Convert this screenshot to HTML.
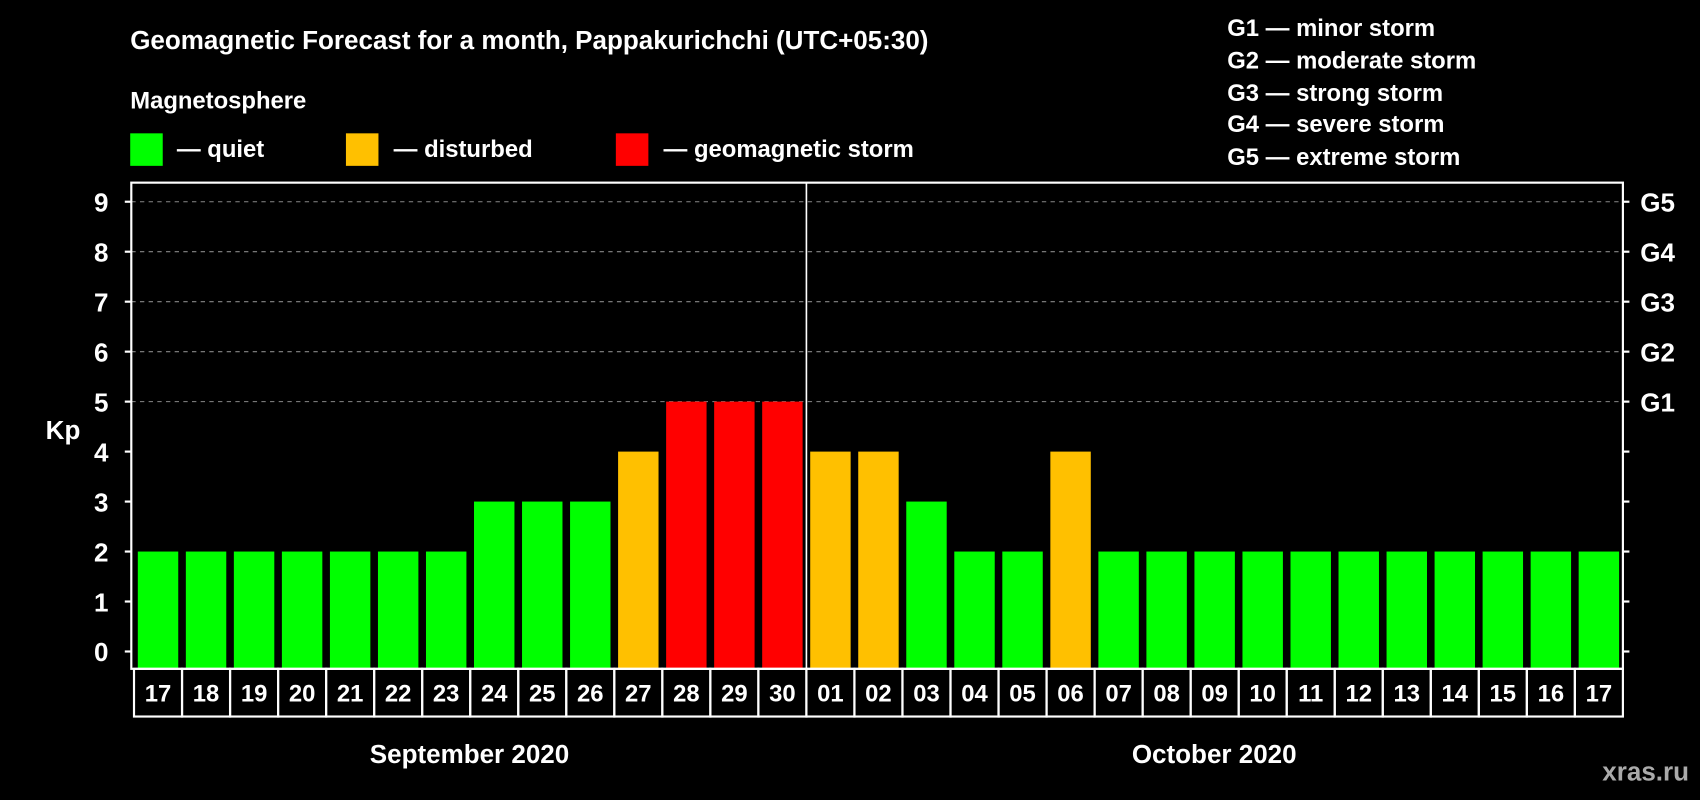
<!DOCTYPE html>
<html><head><meta charset="utf-8"><style>
html,body{margin:0;padding:0;background:#000;}
svg{display:block;font-family:"Liberation Sans",Arial,sans-serif;font-weight:bold;}
</style></head><body>
<svg id="chart" width="1700" height="800" viewBox="0 0 1568 738">
<rect x="0" y="0" width="1568" height="738" fill="#000"/>
<text x="120" y="45" fill="#fff" font-size="24">Geomagnetic Forecast for a month, Pappakurichchi (UTC+05:30)</text>
<text x="120" y="100" fill="#fff" font-size="22">Magnetosphere</text>
<g><rect x="120" y="123" width="30" height="30" fill="#00ff00"/><text x="163" y="145" fill="#fff" font-size="22">— quiet</text></g>
<g><rect x="319" y="123" width="30" height="30" fill="#ffc000"/><text x="363" y="145" fill="#fff" font-size="22">— disturbed</text></g>
<g><rect x="568" y="123" width="30" height="30" fill="#ff0000"/><text x="612" y="145" fill="#fff" font-size="22">— geomagnetic storm</text></g>
<g fill="#fff" font-size="22">
<text x="1132" y="33">G1 — minor storm</text>
<text x="1132" y="63">G2 — moderate storm</text>
<text x="1132" y="93">G3 — strong storm</text>
<text x="1132" y="122">G4 — severe storm</text>
<text x="1132" y="152">G5 — extreme storm</text>
</g>
<text x="58" y="405" fill="#fff" font-size="24" text-anchor="middle">Kp</text>
<g id="plot"></g>
<text x="433" y="704" fill="#fff" font-size="24" text-anchor="middle">September 2020</text>
<text x="1120" y="704" fill="#fff" font-size="24" text-anchor="middle">October 2020</text>
<text x="1558" y="720" fill="#aaa" font-size="24" text-anchor="end">xras.ru</text>
</svg>
<script>
const days = ["17","18","19","20","21","22","23","24","25","26","27","28","29","30","01","02","03","04","05","06","07","08","09","10","11","12","13","14","15","16","17"];
const kp = [2,2,2,2,2,2,2,3,3,3,4,5,5,5,4,4,3,2,2,4,2,2,2,2,2,2,2,2,2,2,2];
const levels = ["q","q","q","q","q","q","q","q","q","q","d","s","s","s","d","d","q","q","q","d","q","q","q","q","q","q","q","q","q","q","q"];
const yTicks = [0,1,2,3,4,5,6,7,8,9];
const gLabels = ["G1","G2","G3","G4","G5"];
const gLevels = [5,6,7,8,9];
const NS="http://www.w3.org/2000/svg";
const g=document.getElementById('plot');
const L=121,R=1497,T=168.5,B=617,slot0=123.5,pitch=(R-slot0)/days.length;
const y=v=>601-v*46.1;
const x=i=>slot0+i*pitch;
const colors={q:"#00ff00",d:"#ffc000",s:"#ff0000"};
function mk(t,a){const e=document.createElementNS(NS,t);for(const k in a)e.setAttribute(k,a[k]);g.appendChild(e);return e;}
yTicks.forEach(v=>{
  if(v>=5){const e=mk('line',{x1:L,x2:R,y1:y(v),y2:y(v),stroke:'#888','stroke-dasharray':'4,4','stroke-width':1});
  
  }
  const t1=mk('line',{x1:L-6,x2:L,y1:y(v),y2:y(v),stroke:'#fff','stroke-width':2});
  
  
  const t2=mk('line',{x1:R,x2:R+6,y1:y(v),y2:y(v),stroke:'#fff','stroke-width':2});
  
  
  const lb=mk('text',{x:100,y:y(v)+9,fill:'#fff','font-size':24,'text-anchor':'end'});lb.textContent=v;
  
  
});
gLabels.forEach((s,i)=>{const t=mk('text',{x:1513,y:y(gLevels[i])+9,fill:'#fff','font-size':24});t.textContent=s;
  
  });
kp.forEach((v,i)=>{
  const r=mk('rect',{x:x(i)+3.5,y:y(v),width:pitch-7,height:B-y(v),fill:colors[levels[i]]});
  
  
  const c=mk('rect',{x:x(i),y:B,width:pitch,height:44,fill:'none',stroke:'#fff','stroke-width':2});
  
  
  const t=mk('text',{x:x(i)+pitch/2,y:B+30,fill:'#fff','font-size':22,'text-anchor':'middle'});t.textContent=days[i];
  
  
});
const f=mk('rect',{x:L,y:T,width:R-L,height:B-T,fill:'none',stroke:'#fff','stroke-width':2});


const m=mk('line',{x1:x(14),x2:x(14),y1:T,y2:B,stroke:'#fff','stroke-width':1.5});


</script>
</body></html>
